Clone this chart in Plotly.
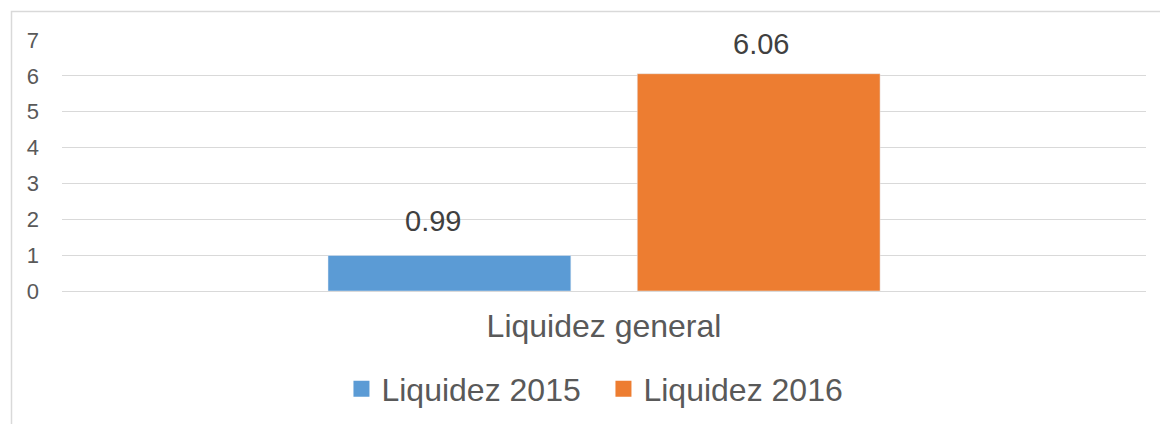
import plotly.graph_objects as go

# ---- data ----
categories = ["Liquidez general"]
series_names = ["Liquidez 2015", "Liquidez 2016"]
values_2015 = [0.99]
values_2016 = [6.06]
y_ticks = [0, 1, 2, 3, 4, 5, 6, 7]

# ---- style ----
colors = ["#5B9BD5", "#ED7D31"]
bar_width = 0.224
bar_offsets = [-0.2546, 0.0307]
label_xshift = [-16, 2]
label_yshift = [35, 30]
FONT = "Liberation Sans, Arial, sans-serif"
W, H = 1160, 424
ML, MR, MT, MB = 62, 14, 40, 133

fig = go.Figure()
series_values = [values_2015, values_2016]
for name, vals, col, off in zip(series_names, series_values, colors, bar_offsets):
    fig.add_trace(go.Bar(
        x=categories, y=vals, name=name, marker_color=col,
        width=bar_width, offset=off, showlegend=False,
        hoverinfo="x+y+name",
    ))

# legend proxies (larger square symbols)
for name, col in zip(series_names, colors):
    fig.add_trace(go.Scatter(
        x=[None], y=[None], mode="markers", name=name,
        marker=dict(symbol="square", size=16, color=col),
        showlegend=True,
    ))

# data labels
for vals, off, xs, ys in zip(series_values, bar_offsets, label_xshift, label_yshift):
    for i, v in enumerate(vals):
        fig.add_annotation(
            x=i + off + bar_width / 2, y=v, text=f"{v:.2f}",
            showarrow=False, xanchor="center", yanchor="middle",
            xshift=xs, yshift=ys,
            font=dict(family=FONT, size=29, color="#404040"),
        )

pw = W - ML - MR
ph = H - MT - MB
# chart-area border (extends beyond right/bottom edge of the image)
fig.add_shape(
    type="rect", xref="paper", yref="paper",
    x0=(11.5 - ML) / pw, x1=1.1, y0=-1.2, y1=(ph + MT - 11.5) / ph,
    line=dict(color="#D9D9D9", width=1.5), fillcolor="rgba(0,0,0,0)",
    layer="below",
)

fig.update_layout(
    width=W, height=H, autosize=False,
    margin=dict(l=ML, r=MR, t=MT, b=MB, pad=0, autoexpand=False),
    paper_bgcolor="white", plot_bgcolor="white",
    barmode="overlay",
    font=dict(family=FONT, color="#595959"),
    legend=dict(
        orientation="h", x=0.4995, xanchor="center", y=-0.39, yanchor="middle",
        font=dict(family=FONT, size=32, color="#595959"),
        itemclick=False, itemdoubleclick=False,
        entrywidth=217, entrywidthmode="pixels",
    ),
    xaxis=dict(
        type="category", range=[-0.5, 0.5], showgrid=False, zeroline=False,
        showline=False, ticks="",
        tickfont=dict(family=FONT, size=32, color="#595959"),
        ticklabelstandoff=13,
    ),
    yaxis=dict(
        range=[0, 7], tickvals=y_ticks, showgrid=True,
        gridcolor="#D9D9D9", gridwidth=1.4,
        zeroline=True, zerolinecolor="#D9D9D9", zerolinewidth=1.4,
        showline=False, ticks="",
        tickfont=dict(family=FONT, size=22, color="#595959"),
        ticklabelstandoff=22,
    ),
)

fig.write_html(
    "out.html",
    config={"displayModeBar": False},
    post_script="document.body.style.margin='0';document.body.style.overflow='hidden';",
)
